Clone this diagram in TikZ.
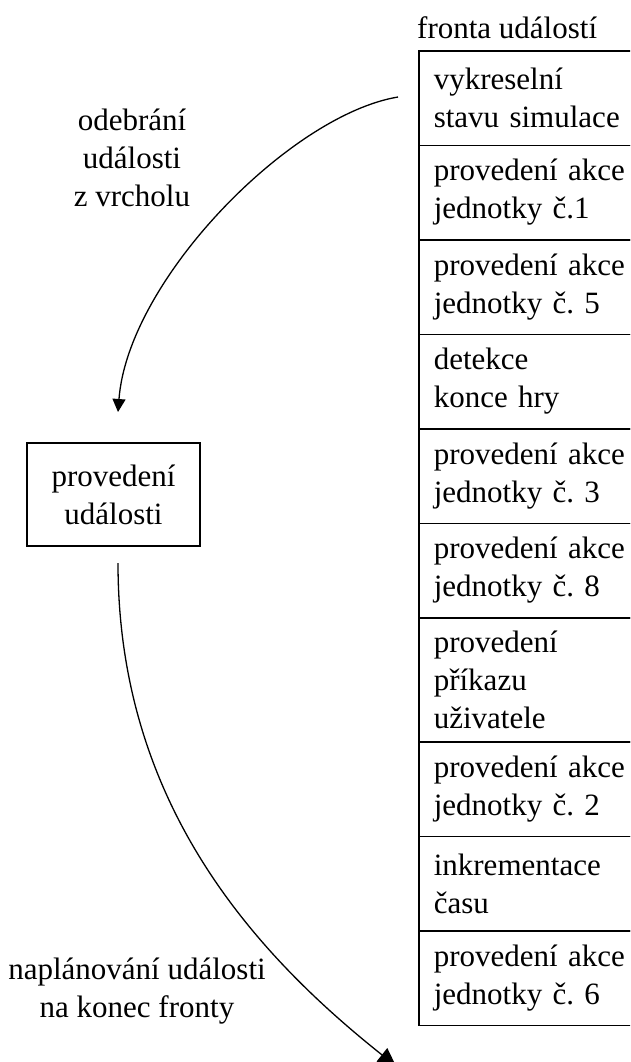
\documentclass[tikz,border=0pt]{standalone}
\usepackage{fontspec}
\setmainfont{Liberation Serif}
\frenchspacing
\usetikzlibrary{arrows.meta}
\begin{document}
\begin{tikzpicture}[x=1pt,y=-1pt,
  every node/.style={font=\fontsize{31}{38}\selectfont, inner sep=0pt},
  qrow/.style={draw, line width=1.6pt, anchor=north west, rectangle,
    minimum width=240pt, text width=210pt, inner xsep=15pt, align=left},
  evbox/.style={draw, line width=1.6pt, rectangle, align=center,
    minimum width=173pt, minimum height=103pt},
  flow/.style={line width=1.3pt},
  lbl/.style={align=center}
]
\useasboundingbox (0,0) rectangle (630,1062);
\clip (0,0) rectangle (630,1062);

% queue caption
\node[anchor=west] (cap) at (417,28) {fronta událostí};

% event queue, top to bottom
\node[qrow, minimum height=94.5pt] (q1)  at (418,50)    {vykreselní\\stavu simulace};
\node[qrow, minimum height=94.5pt] (q2)  at (418,144.5) {provedení akce\\jednotky č.1};
\node[qrow, minimum height=94.5pt] (q3)  at (418,239)   {provedení akce\\jednotky č. 5};
\node[qrow, minimum height=94.5pt] (q4)  at (418,333.5) {detekce\\konce hry};
\node[qrow, minimum height=94.5pt] (q5)  at (418,428)   {provedení akce\\jednotky č. 3};
\node[qrow, minimum height=94.5pt] (q6)  at (418,522.5) {provedení akce\\jednotky č. 8};
\node[qrow, minimum height=124pt]  (q7)  at (418,617)   {provedení\\příkazu\\uživatele};
\node[qrow, minimum height=94.5pt] (q8)  at (418,741)   {provedení akce\\jednotky č. 2};
\node[qrow, minimum height=94.5pt] (q9)  at (418,835.5) {inkrementace\\času};
\node[qrow, minimum height=94.5pt] (q10) at (418,930)   {provedení akce\\jednotky č. 6};

% event being processed
\node[evbox] (ev) at (113.5,494.5) {provedení\\události};

% connector end points
\coordinate (s1) at (398,97);
\coordinate (t1) at (118,412);
\coordinate (s2) at (118,563);
\coordinate (t2) at (396,1066);

% take the head of the queue
\draw[flow, -{Triangle[width=13pt,length=13pt]}]
  (s1) .. controls (290,115) and (128,280) .. (t1);
% push the event to the end of the queue
\draw[flow, -{Triangle[width=17pt,length=18pt]}]
  (s2) .. controls (118,800) and (250,950) .. (t2);

% connector labels
\node[lbl] (l1) at (132,158) {odebrání\\události\\z vrcholu};
\node[lbl] (l2) at (137,991) {naplánování události\\na konec fronty};
\end{tikzpicture}
\end{document}
